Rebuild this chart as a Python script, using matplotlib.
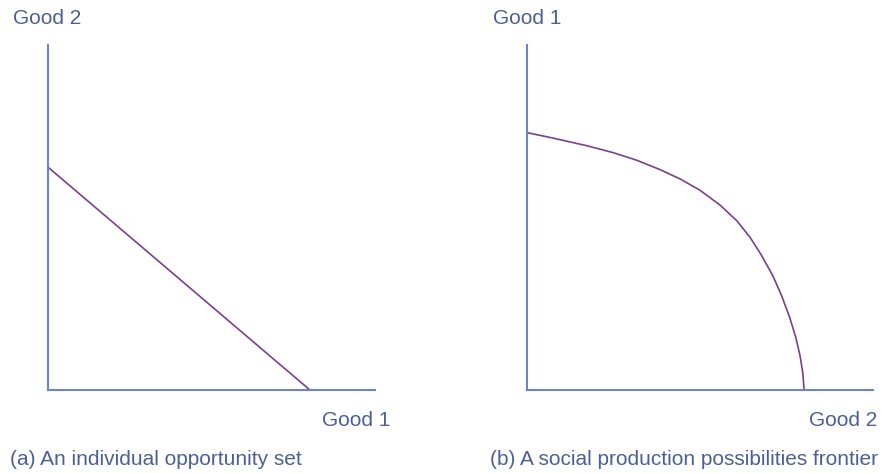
import matplotlib
matplotlib.use('Agg')
import matplotlib.pyplot as plt

# ─── DATA (axis units 0..10) ─────────────────────────────────────────────────
# (a) individual opportunity set: straight budget line
budget_x = [0.0, 8.01]
budget_y = [6.46, 0.0]

# (b) social production possibilities frontier: bowed-out curve
ppf_x = [0.0, 0.76, 1.73, 2.49, 3.17, 3.84, 4.42, 5.00, 5.58, 6.06,
         6.45, 6.78, 7.11, 7.36, 7.60, 7.77, 7.89, 7.97, 8.01]
ppf_y = [7.46, 7.30, 7.08, 6.88, 6.66, 6.39, 6.12, 5.79, 5.36, 4.91,
         4.42, 3.90, 3.30, 2.73, 2.08, 1.52, 1.00, 0.50, 0.0]

labels_a = ("Good 2", "Good 1", "(a) An individual opportunity set")
labels_b = ("Good 1", "Good 2", "(b) A social production possibilities frontier")

AXIS_COL = '#6f84c4'
LINE_COL = '#7a3f8e'
TEXT_COL = '#4c5f96'
FS = 15
W, H = 891, 473

plt.rcParams['font.family'] = ['Liberation Sans', 'DejaVu Sans']
fig = plt.figure(figsize=(W / 100, H / 100), dpi=100)


def panel(x0, x1, y0, y1, xs, ys, labels, top_x, right_x, cap_x):
    ax = fig.add_axes([x0 / W, 1 - y1 / H, (x1 - x0) / W, (y1 - y0) / H])
    ax.plot(xs, ys, color=LINE_COL, lw=1.2, solid_capstyle='butt', solid_joinstyle='round')
    ax.set_xlim(0, 10); ax.set_ylim(0, 10)
    for s in ('top', 'right'):
        ax.spines[s].set_visible(False)
    for s in ('left', 'bottom'):
        ax.spines[s].set_color(AXIS_COL); ax.spines[s].set_linewidth(1.5)
    ax.set_xticks([]); ax.set_yticks([])
    ax.patch.set_alpha(0)
    fig.text(top_x / W, 1 - 19 / H, labels[0], color=TEXT_COL, fontsize=FS, va='center', ha='left')
    fig.text(right_x / W, 1 - 420 / H, labels[1], color=TEXT_COL, fontsize=FS, va='center', ha='right')
    fig.text(cap_x / W, 1 - 459 / H, labels[2], color=TEXT_COL, fontsize=FS, va='center', ha='left')


panel(48, 375, 45, 390, budget_x, budget_y, labels_a, 13, 390, 10)
panel(527, 873, 45, 390, ppf_x, ppf_y, labels_b, 493, 877, 490)

fig.savefig('out.png', dpi=100)
